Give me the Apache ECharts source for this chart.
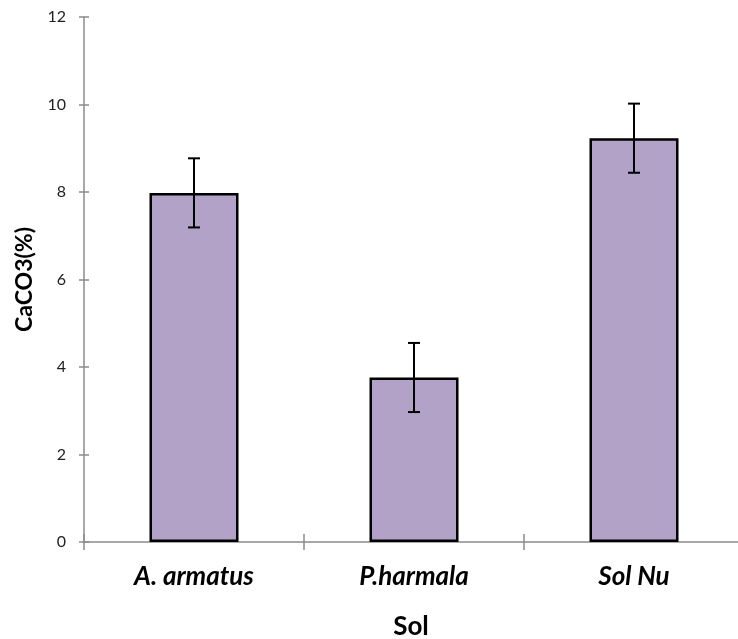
<!DOCTYPE html>
<html>
<head>
<meta charset="utf-8">
<script src="https://cdn.jsdelivr.net/npm/echarts@6/dist/echarts.min.js"></script>
<style>html,body{margin:0;padding:0;background:#fff}#c{width:738px;height:639px}</style>
</head>
<body>
<div id="c"></div>
<script>
var categories = ['A. armatus', 'P.harmala', 'Sol Nu'];
var values = [7.98, 3.76, 9.23];
var errors = [0.79, 0.79, 0.79];
var yTicks = [0, 2, 4, 6, 8, 10, 12];

var chart = echarts.init(document.getElementById('c'));
var axisColor = '#8c8c8c';
var font = 'Lato, "Open Sans", sans-serif';
// category positions on a value axis; axis extends slightly past the right edge (cropped in the original)
var catIdx = categories.map(function (c, i) { return i; });
var boundaries = [-0.5, 0.5, 1.5];
var xMin = -0.5, xMax = -0.5 + 3 * 654 / 660;

chart.setOption({
  animation: false,
  grid: {left: 84, right: 0, top: 17, bottom: 97, containLabel: false, outerBoundsMode: 'none'},
  xAxis: [{
    type: 'value', min: xMin, max: xMax,
    splitLine: {show: false},
    axisLine: {show: true, onZero: false, lineStyle: {color: axisColor, width: 1.5}},
    axisTick: {show: true, length: 8, customValues: boundaries, lineStyle: {color: axisColor, width: 1.5}},
    axisLabel: {color: '#000', fontFamily: font, fontSize: 26, fontWeight: 'bold', fontStyle: 'italic', margin: 22,
      customValues: catIdx,
      formatter: function (v) { return categories[Math.round(v)] || ''; }},
    name: 'Sol', nameLocation: 'middle', nameGap: 72,
    nameTextStyle: {color: '#000', fontFamily: font, fontSize: 26, fontWeight: 'bold', padding: [0, 0, 0, 0]}
  }, {
    type: 'value', min: xMin, max: xMax, position: 'bottom',
    splitLine: {show: false},
    axisLine: {show: false, onZero: false},
    axisTick: {show: true, inside: true, length: 8, customValues: boundaries, lineStyle: {color: axisColor, width: 1.5}},
    axisLabel: {show: false}
  }],
  yAxis: [{
    type: 'value', min: 0, max: 12, interval: 2,
    splitLine: {show: false},
    axisLine: {show: true, onZero: false, lineStyle: {color: axisColor, width: 1.5}},
    axisTick: {show: true, length: 5, lineStyle: {color: axisColor, width: 1.5}},
    axisLabel: {color: '#222', fontFamily: font, fontSize: 16, margin: 18,
      formatter: function (v) { return yTicks.indexOf(v) >= 0 ? String(v) : ''; }},
    name: 'CaCO3(%)', nameLocation: 'middle', nameGap: 44,
    nameTextStyle: {color: '#000', fontFamily: font, fontSize: 23, fontWeight: 'bold'}
  }, {
    type: 'value', min: 0, max: 12, interval: 2, position: 'left',
    splitLine: {show: false},
    axisLine: {show: false, onZero: false},
    axisTick: {show: true, inside: true, length: 5, lineStyle: {color: axisColor, width: 1.5}},
    axisLabel: {show: false}
  }],
  series: [{
    type: 'bar', data: values.map(function (v, i) { return [catIdx[i], v]; }), barWidth: 89,
    itemStyle: {color: '#B3A2C7', borderColor: '#000', borderWidth: 2.5},
    z: 2
  }, {
    type: 'custom', z: 5,
    data: values.map(function (v, i) { return [catIdx[i], v - errors[i], v + errors[i]]; }),
    renderItem: function (params, api) {
      var lo = api.coord([api.value(0), api.value(1)]);
      var hi = api.coord([api.value(0), api.value(2)]);
      var w = 6;
      var st = {stroke: '#000', lineWidth: 2};
      return {type: 'group', children: [
        {type: 'line', shape: {x1: hi[0], y1: hi[1], x2: lo[0], y2: lo[1]}, style: st},
        {type: 'line', shape: {x1: hi[0] - w, y1: hi[1], x2: hi[0] + w, y2: hi[1]}, style: st},
        {type: 'line', shape: {x1: lo[0] - w, y1: lo[1], x2: lo[0] + w, y2: lo[1]}, style: st}
      ]};
    }
  }]
});
</script>
</body>
</html>
